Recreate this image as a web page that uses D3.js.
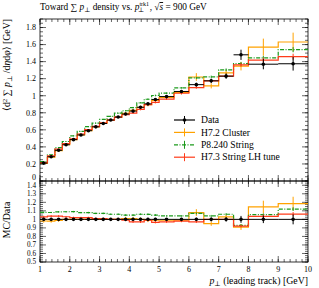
<!DOCTYPE html>
<html>
<head>
<meta charset="utf-8">
<script src="https://cdn.jsdelivr.net/npm/d3@7"></script>
<style>
  body { margin: 0; background: #fff; }
  text { font-family: "Liberation Serif", "DejaVu Serif", serif; fill: #000; }
</style>
</head>
<body>
<svg id="canvas" width="319" height="288"></svg>
<script>
// bin edges in leading track pT [GeV]
const binEdges = [1, 1.25, 1.5, 1.75, 2, 2.25, 2.5, 2.75, 3, 3.25, 3.5, 3.75, 4, 4.25, 4.5, 4.75, 5, 5.5, 6, 6.5, 7, 7.5, 8, 9, 10];

const dataValues = [0.21, 0.285, 0.36, 0.425, 0.485, 0.54, 0.59, 0.635, 0.675, 0.715, 0.75, 0.785, 0.82, 0.865, 0.905, 0.955, 0.99, 1.05, 1.13, 1.175, 1.23, 1.48, 1.37, 1.375];
const dataErrors = [0.004, 0.005, 0.006, 0.007, 0.008, 0.008, 0.009, 0.01, 0.01, 0.011, 0.012, 0.013, 0.014, 0.015, 0.016, 0.017, 0.015, 0.018, 0.022, 0.026, 0.032, 0.06, 0.06, 0.08];

const h72Values = [0.206, 0.279, 0.356, 0.425, 0.485, 0.54, 0.59, 0.635, 0.675, 0.715, 0.75, 0.793, 0.828, 0.865, 0.896, 0.945, 0.98, 1.04, 1.22, 1.116, 1.267, 1.347, 1.57, 1.63];
const h72Errors = [0.004, 0.005, 0.006, 0.007, 0.008, 0.009, 0.01, 0.011, 0.012, 0.013, 0.014, 0.015, 0.016, 0.018, 0.02, 0.022, 0.02, 0.025, 0.045, 0.03, 0.035, 0.05, 0.1, 0.11];

const p8Values = [0.227, 0.308, 0.392, 0.463, 0.529, 0.583, 0.637, 0.679, 0.722, 0.758, 0.795, 0.824, 0.861, 0.917, 0.959, 1.003, 1.03, 1.092, 1.209, 1.222, 1.304, 1.376, 1.445, 1.54];
const p8Errors = [0.002, 0.002, 0.003, 0.003, 0.004, 0.004, 0.005, 0.005, 0.006, 0.006, 0.007, 0.007, 0.008, 0.008, 0.009, 0.01, 0.008, 0.01, 0.012, 0.014, 0.016, 0.02, 0.022, 0.03];

const h73Values = [0.216, 0.296, 0.374, 0.438, 0.495, 0.551, 0.602, 0.641, 0.682, 0.715, 0.75, 0.777, 0.795, 0.839, 0.896, 0.922, 0.96, 1.029, 1.096, 1.175, 1.23, 1.362, 1.418, 1.458];
const h73Errors = [0.003, 0.003, 0.004, 0.004, 0.005, 0.005, 0.006, 0.006, 0.007, 0.007, 0.008, 0.008, 0.009, 0.01, 0.011, 0.012, 0.01, 0.012, 0.014, 0.016, 0.018, 0.022, 0.03, 0.035];

const xTicks = [1, 2, 3, 4, 5, 6, 7, 8, 9, 10];
const mainTicks = [0, 0.2, 0.4, 0.6, 0.8, 1, 1.2, 1.4, 1.6, 1.8];
const ratioTicks = [0.5, 0.6, 0.7, 0.8, 0.9, 1, 1.1, 1.2, 1.3, 1.4];

const canvas = d3.select("#canvas");

const left = 40, right = 308, mainTop = 19, mainBottom = 181, ratioBottom = 262;

const xScale = d3.scaleLinear().domain([1, 10]).range([left, right]);
const yMain = d3.scaleLinear().domain([0, 1.9]).range([mainBottom, mainTop]);
const yRatio = d3.scaleLinear().domain([0.5, 1.45]).range([ratioBottom, mainBottom]);

const mcSeries = [
  { name: "H7.2 Cluster", values: h72Values, errors: h72Errors, color: "#ffa200", dash: null },
  { name: "P8.240 String", values: p8Values, errors: p8Errors, color: "#1c9a1c", dash: "4,1.5,1,1.5" },
  { name: "H7.3 String LH tune", values: h73Values, errors: h73Errors, color: "#ff3b1a", dash: null },
];

const bins = dataValues.map((v, i) => ({ lo: binEdges[i], hi: binEdges[i + 1], mid: (binEdges[i] + binEdges[i + 1]) / 2 }));

const fmt = (d) => String(+d.toFixed(2));

// draws a panel frame with inward ticks on all sides
const drawFrame = (yScale, top, bottom, majorY, minorStep, labelSize, labelShift) => {
  const g = canvas.append("g");
  const [y0, y1] = yScale.domain();
  const minorY = d3.range(Math.ceil(y0 / minorStep) * minorStep, y1 + 1e-9, minorStep);
  const minorX = d3.range(1, 10.001, 0.2);

  minorY.forEach((v) => {
    const y = yScale(v);
    g.append("line").attr("x1", left).attr("x2", left + 3).attr("y1", y).attr("y2", y);
    g.append("line").attr("x1", right).attr("x2", right - 3).attr("y1", y).attr("y2", y);
  });
  majorY.forEach((v) => {
    const y = yScale(v);
    g.append("line").attr("x1", left).attr("x2", left + 6).attr("y1", y).attr("y2", y);
    g.append("line").attr("x1", right).attr("x2", right - 6).attr("y1", y).attr("y2", y);
  });
  minorX.forEach((v) => {
    const x = xScale(v);
    g.append("line").attr("x1", x).attr("x2", x).attr("y1", bottom).attr("y2", bottom - 3);
    g.append("line").attr("x1", x).attr("x2", x).attr("y1", top).attr("y2", top + 3);
  });
  xTicks.forEach((v) => {
    const x = xScale(v);
    g.append("line").attr("x1", x).attr("x2", x).attr("y1", bottom).attr("y2", bottom - 6);
    g.append("line").attr("x1", x).attr("x2", x).attr("y1", top).attr("y2", top + 6);
  });
  g.selectAll("line").attr("stroke", "#000").attr("stroke-width", 0.6);

  g.append("rect")
    .attr("x", left).attr("y", top)
    .attr("width", right - left).attr("height", bottom - top)
    .attr("fill", "none").attr("stroke", "#000").attr("stroke-width", 0.8);

  majorY.forEach((v) => {
    g.append("text")
      .attr("x", left - 4).attr("y", yScale(v) + labelSize * 0.35 + (labelShift[v] || 0))
      .attr("text-anchor", "end").attr("font-size", labelSize)
      .text(fmt(v));
  });
};

drawFrame(yMain, mainTop, mainBottom, mainTicks, 0.05, 8, { 0: -4 });
drawFrame(yRatio, mainBottom, ratioBottom, ratioTicks, 0.025, 7.2, { 1.4: 0.5, 0.5: -1 });

// x tick labels below ratio panel
canvas.append("g").selectAll("text").data(xTicks).enter().append("text")
  .attr("x", (d) => xScale(d)).attr("y", 271.5)
  .attr("text-anchor", "middle").attr("font-size", 8)
  .text((d) => d);

const stepPath = (values, yScale) => {
  const pts = values.map((v, i) => [binEdges[i], v]);
  pts.push([binEdges[binEdges.length - 1], values[values.length - 1]]);
  return d3.line().x((p) => xScale(p[0])).y((p) => yScale(p[1])).curve(d3.curveStepAfter)(pts);
};

const drawMC = (series, yScale, ratio) => {
  const vals = series.values.map((v, i) => (ratio ? v / dataValues[i] : v));
  const errs = series.errors.map((e, i) => (ratio ? e / dataValues[i] : e));
  canvas.append("path")
    .attr("d", stepPath(vals, yScale))
    .attr("fill", "none").attr("stroke", series.color)
    .attr("stroke-width", 1.2).attr("stroke-dasharray", series.dash);
  canvas.append("g").selectAll("line").data(bins).enter().append("line")
    .attr("x1", (b) => xScale(b.mid)).attr("x2", (b) => xScale(b.mid))
    .attr("y1", (b, i) => yScale(vals[i] - errs[i]))
    .attr("y2", (b, i) => yScale(vals[i] + errs[i]))
    .attr("stroke", series.color).attr("stroke-width", 1);
};

const drawData = (yScale, ratio) => {
  const vals = dataValues.map((v) => (ratio ? 1 : v));
  const errs = dataErrors.map((e, i) => (ratio ? e / dataValues[i] : e));
  const g = canvas.append("g");
  g.selectAll(".hbar").data(bins).enter().append("line")
    .attr("x1", (b) => xScale(b.lo)).attr("x2", (b) => xScale(b.hi))
    .attr("y1", (b, i) => yScale(vals[i])).attr("y2", (b, i) => yScale(vals[i]));
  g.selectAll(".vbar").data(bins).enter().append("line")
    .attr("x1", (b) => xScale(b.mid)).attr("x2", (b) => xScale(b.mid))
    .attr("y1", (b, i) => yScale(vals[i] - errs[i]))
    .attr("y2", (b, i) => yScale(vals[i] + errs[i]));
  g.selectAll("line").attr("stroke", "#000").attr("stroke-width", 1);
  g.selectAll("circle").data(bins).enter().append("circle")
    .attr("cx", (b) => xScale(b.mid)).attr("cy", (b, i) => yScale(vals[i]))
    .attr("r", 1.8).attr("fill", "#000");
};

mcSeries.forEach((s) => drawMC(s, yMain, false));
drawData(yMain, false);
mcSeries.forEach((s) => drawMC(s, yRatio, true));
drawData(yRatio, true);

// legend
const legend = canvas.append("g");
const legendRows = [{ name: "Data", color: "#000", dash: null, data: true }].concat(mcSeries);
legendRows.forEach((row, i) => {
  const y = 120 + i * 12.4;
  legend.append("line")
    .attr("x1", 174).attr("x2", 195).attr("y1", y).attr("y2", y)
    .attr("stroke", row.color).attr("stroke-width", 1.2)
    .attr("stroke-dasharray", row.dash);
  legend.append("line")
    .attr("x1", 184.5).attr("x2", 184.5).attr("y1", y - 4).attr("y2", y + 4)
    .attr("stroke", row.color).attr("stroke-width", 1);
  if (row.data) {
    legend.append("circle").attr("cx", 184.5).attr("cy", y).attr("r", 1.8).attr("fill", "#000");
  }
  legend.append("text")
    .attr("x", 201).attr("y", y + 3.2).attr("font-size", 9.6)
    .text(row.name);
});

// title
const title = canvas.append("text").attr("x", 40).attr("y", 10).attr("font-size", 9.3);
title.append("tspan").text("Toward ∑ ");
title.append("tspan").attr("font-style", "italic").text("p");
title.append("tspan").attr("dy", 1.8).attr("font-size", 6.5).text("⊥");
title.append("tspan").attr("dy", -1.8).text(" density vs. ");
title.append("tspan").attr("font-style", "italic").text("p");
title.append("tspan").attr("dy", -3.7).attr("font-size", 6).text("trk1");
title.append("tspan").attr("dx", -11).attr("dy", 5.7).attr("font-size", 6.5).text("⊥");
title.append("tspan").attr("dx", 5.5).attr("dy", -2).text(", √");
title.append("tspan").attr("font-style", "italic").attr("text-decoration", "overline").text("s");
title.append("tspan").text(" = 900 GeV");

// y label main
const yLabel = canvas.append("text")
  .attr("transform", "translate(10,19) rotate(-90)")
  .attr("text-anchor", "end").attr("font-size", 9.8);
yLabel.append("tspan").text("⟨d");
yLabel.append("tspan").attr("dy", -3.2).attr("font-size", 6.8).text("2");
yLabel.append("tspan").attr("dy", 3.2).text(" ∑ ");
yLabel.append("tspan").attr("font-style", "italic").text("p");
yLabel.append("tspan").attr("dy", 2).attr("font-size", 6.8).text("⊥");
yLabel.append("tspan").attr("dy", -2).text(" /d");
yLabel.append("tspan").attr("font-style", "italic").text("η");
yLabel.append("tspan").text("d");
yLabel.append("tspan").attr("font-style", "italic").text("φ");
yLabel.append("tspan").text("⟩ [GeV]");

// y label ratio
canvas.append("text")
  .attr("transform", "translate(10,220) rotate(-90)")
  .attr("text-anchor", "middle").attr("font-size", 9.8)
  .text("MC/Data");

// x label
const xLabel = canvas.append("text")
  .attr("x", 308).attr("y", 284)
  .attr("text-anchor", "end").attr("font-size", 9.8);
xLabel.append("tspan").attr("font-style", "italic").text("p");
xLabel.append("tspan").attr("dy", 2).attr("font-size", 6.8).text("⊥");
xLabel.append("tspan").attr("dy", -2).text(" (leading track) [GeV]");
</script>
</body>
</html>
